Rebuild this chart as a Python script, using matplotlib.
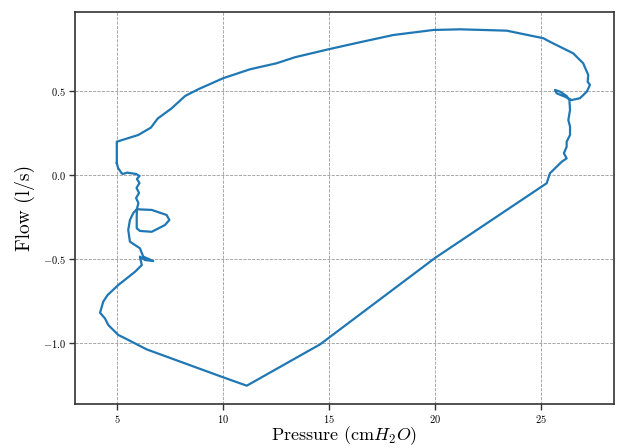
import matplotlib
matplotlib.use("Agg")
import matplotlib.pyplot as plt
import numpy as np

# pressure-flow loop, values
pressure = [
    4.99, 4.99, 6.00, 6.60, 6.92, 7.58, 8.21, 8.83, 10.01, 11.27, 12.53, 13.40,
    14.97, 16.46, 18.03, 19.92, 21.18, 23.38, 25.11, 25.42, 26.52, 26.99, 27.23,
    27.20, 27.31, 27.16, 26.84, 26.45, 26.13, 25.74, 25.66, 25.90, 26.21, 26.34,
    26.37, 26.29, 26.37, 26.37, 26.21, 26.21, 26.08, 26.21, 25.98, 25.42, 25.27,
    20.00, 14.58, 11.12, 9.94, 6.40, 5.38, 5.06, 4.59, 4.43, 4.20, 4.35, 4.56,
    5.06, 5.85, 6.17, 6.08, 6.32, 6.71, 6.24, 6.08, 5.61, 5.53, 5.61, 5.77,
    5.93, 6.64, 7.34, 7.47, 7.26, 6.64, 6.08, 5.93, 5.93, 5.94, 6.01, 5.90,
    6.04, 5.92, 6.06, 5.94, 6.06, 5.90, 5.47, 5.28, 5.22, 5.05, 4.99,
]
flow = [
    0.071, 0.198, 0.238, 0.282, 0.336, 0.397, 0.470, 0.510, 0.576, 0.629, 0.665,
    0.701, 0.748, 0.790, 0.833, 0.863, 0.867, 0.859, 0.814, 0.793, 0.724, 0.665,
    0.595, 0.555, 0.536, 0.496, 0.457, 0.446, 0.466, 0.486, 0.506, 0.496, 0.470,
    0.446, 0.387, 0.327, 0.288, 0.238, 0.198, 0.168, 0.129, 0.099, 0.079, 0.010,
    -0.049, -0.494, -1.008, -1.254, -1.201, -1.038, -0.972, -0.952, -0.893,
    -0.853, -0.820, -0.754, -0.714, -0.655, -0.576, -0.536, -0.486, -0.506,
    -0.512, -0.486, -0.436, -0.397, -0.327, -0.268, -0.226, -0.204, -0.208,
    -0.238, -0.268, -0.298, -0.338, -0.333, -0.317, -0.248, -0.202, -0.167,
    -0.137, -0.107, -0.077, -0.048, -0.024, -0.006, 0.006, 0.014, 0.006, 0.010,
    0.042, 0.071,
]


def main():
    plt.rcParams["font.family"] = "serif"
    plt.rcParams["font.serif"] = ["cmr10"]
    plt.rcParams["mathtext.fontset"] = "cm"
    plt.rcParams["axes.formatter.use_mathtext"] = True

    fig = plt.figure(figsize=(6.17, 4.48), dpi=100)
    ax = fig.add_axes([0.1216, 0.0982, 0.8734, 0.8750])

    ax.plot(pressure, flow, color="#1f77b4", linewidth=1.6)

    ax.set_xlim(3.02, 28.44)
    ax.set_ylim(-1.363, 0.970)
    ax.set_xticks([5, 10, 15, 20, 25])
    ax.set_yticks([-1.0, -0.5, 0.0, 0.5])

    ax.grid(True, linestyle="--", color="#999999", linewidth=0.6)
    for s in ax.spines.values():
        s.set_color("#333333")
        s.set_linewidth(1.2)
    ax.tick_params(labelsize=7.5, length=4, width=1.0, color="#333333", pad=2.5)

    ax.set_xlabel("Pressure (cm$H_2O$)", fontsize=13, labelpad=-0.5)
    ax.set_ylabel("Flow (l/s)", fontsize=14, labelpad=6)

    fig.savefig("out.png")


if __name__ == "__main__":
    main()
